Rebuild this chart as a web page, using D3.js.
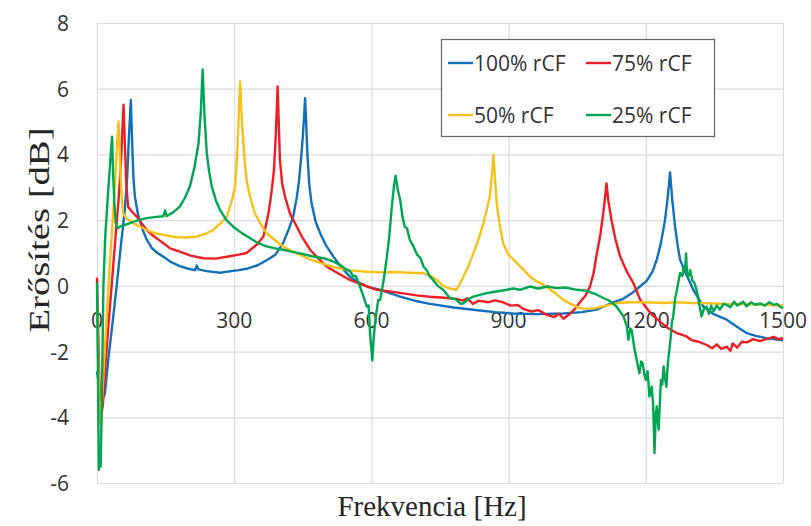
<!DOCTYPE html>
<html>
<head>
<meta charset="utf-8">
<script src="https://cdn.jsdelivr.net/npm/d3@7"></script>
<style>
  html, body { margin: 0; padding: 0; background: #fff; }
  svg { display: block; }
</style>
</head>
<body>
<div id="chart"></div>
<script>
// ---------- data ----------
const xTicks = [0, 300, 600, 900, 1200, 1500];
const yTicks = [-6, -4, -2, 0, 2, 4, 6, 8];
const seriesNames = ["100% rCF", "75% rCF", "50% rCF", "25% rCF"];
const seriesColors = ["#1170b8", "#ee1d23", "#f7c11a", "#00a651"];

// [frequency Hz, gain dB]
const rcf100 = [[0,-2.6],[5,-3.1],[12,-3.45],[17,-3.3],[25,-2.2],[35,-1.0],[43,0],[52,1.2],[60,2.2],[66,3.3],[70,4.6],[74,5.66],[77,4.3],[80,3.2],[83,2.7],[90,2.15],[100,1.7],[109,1.40],[120,1.15],[132,1.0],[145,0.89],[160,0.74],[181,0.6],[200,0.52],[215,0.48],[218,0.62],[222,0.5],[240,0.45],[269,0.40],[290,0.44],[310,0.48],[327,0.52],[350,0.62],[371,0.78],[390,0.95],[407,1.30],[420,1.75],[429,2.11],[437,2.7],[442,3.23],[447,4.0],[450,4.54],[453,5.2],[455,5.71],[457,5.1],[460,4.04],[464,3.1],[469,2.52],[478,1.95],[488,1.60],[500,1.25],[517,0.89],[535,0.55],[553,0.28],[570,0.12],[590,-0.02],[619,-0.12],[663,-0.33],[700,-0.47],[728,-0.55],[780,-0.66],[837,-0.75],[870,-0.8],[910,-0.84],[960,-0.86],[1019,-0.84],[1060,-0.8],[1093,-0.72],[1129,-0.5],[1150,-0.4],[1170,-0.22],[1187,-0.02],[1202,0.15],[1215,0.45],[1224,0.8],[1233,1.3],[1242,2.0],[1248,2.7],[1253,3.45],[1258,2.6],[1264,1.80],[1270,1.2],[1275,0.79],[1290,0.3],[1304,-0.12],[1326,-0.63],[1347,-0.85],[1377,-1.03],[1400,-1.25],[1421,-1.44],[1440,-1.52],[1464,-1.59],[1480,-1.62],[1500,-1.66]];

const rcf75 = [[0,0.25],[2,-1.0],[5,-2.8],[9,-4.0],[13,-3.6],[18,-2.5],[25,-1.2],[32,0],[40,1.4],[47,2.6],[52,3.6],[55,4.6],[58,5.51],[61,4.3],[64,3.1],[68,2.41],[77,2.25],[87,2.11],[98,1.9],[109,1.70],[125,1.5],[145,1.30],[160,1.14],[181,1.04],[205,0.92],[232,0.84],[260,0.83],[290,0.9],[310,0.95],[327,1.0],[349,1.25],[364,1.5],[375,2.21],[382,2.9],[387,3.53],[391,4.6],[395,6.07],[398,4.7],[400,3.83],[405,3.1],[411,2.72],[422,2.2],[437,1.80],[450,1.45],[466,1.10],[485,0.82],[502,0.59],[525,0.4],[553,0.18],[582,0.03],[612,-0.12],[655,-0.2],[699,-0.29],[728,-0.33],[760,-0.36],[786,-0.4],[800,-0.45],[810,-0.38],[822,-0.55],[835,-0.45],[855,-0.5],[870,-0.44],[888,-0.5],[905,-0.6],[920,-0.58],[932,-0.7],[950,-0.78],[965,-0.74],[983,-0.88],[1000,-0.95],[1010,-0.85],[1020,-1.0],[1034,-0.85],[1045,-0.7],[1056,-0.5],[1068,-0.3],[1078,-0.02],[1086,0.4],[1093,0.99],[1100,1.5],[1107,2.21],[1111,2.7],[1114,3.12],[1118,2.6],[1125,2.0],[1134,1.4],[1144,0.89],[1158,0.45],[1173,0.08],[1187,-0.4],[1202,-0.68],[1215,-0.9],[1231,-1.09],[1250,-1.3],[1268,-1.44],[1289,-1.54],[1300,-1.65],[1315,-1.7],[1333,-1.8],[1345,-1.9],[1355,-1.78],[1365,-1.92],[1377,-1.85],[1385,-1.98],[1390,-1.75],[1400,-1.88],[1410,-1.7],[1421,-1.72],[1435,-1.62],[1450,-1.68],[1464,-1.62],[1480,-1.55],[1490,-1.63],[1500,-1.58]];

const rcf50 = [[0,-0.5],[3,-2.5],[7,-4.2],[11,-3.5],[16,-2.2],[25,0],[32,1.5],[38,2.8],[42,3.8],[45,4.6],[47,5.0],[50,4.0],[53,3.0],[57,2.2],[65,2.05],[79,1.91],[95,1.8],[109,1.70],[127,1.6],[145,1.55],[174,1.48],[195,1.47],[218,1.50],[240,1.6],[254,1.70],[270,1.9],[284,2.11],[295,2.6],[302,3.02],[306,3.9],[309,4.85],[311,5.6],[313,6.22],[315,5.5],[319,4.54],[323,3.8],[327,3.23],[335,2.7],[345,2.21],[357,1.9],[371,1.60],[390,1.38],[407,1.20],[425,1.07],[444,0.94],[470,0.78],[502,0.64],[525,0.55],[553,0.47],[590,0.43],[626,0.41],[655,0.42],[680,0.40],[699,0.39],[713,0.39],[730,0.3],[743,0.18],[757,0.0],[770,-0.08],[786,-0.12],[793,0.05],[801,0.28],[812,0.6],[823,0.99],[835,1.45],[845,1.91],[852,2.3],[859,2.72],[863,3.3],[867,3.99],[870,3.3],[874,2.52],[880,1.9],[888,1.30],[900,0.95],[918,0.69],[932,0.5],[947,0.28],[960,0.15],[976,0.03],[1000,-0.2],[1020,-0.43],[1040,-0.58],[1056,-0.68],[1075,-0.7],[1090,-0.68],[1114,-0.6],[1140,-0.52],[1165,-0.5],[1200,-0.5],[1240,-0.52],[1268,-0.5],[1300,-0.52],[1340,-0.53],[1377,-0.55],[1420,-0.56],[1460,-0.58],[1500,-0.6]];

const rcf25 = [[0,0.1],[2,-2.5],[4,-5.6],[6,-5.2],[8,-5.5],[10,-4.0],[14,0],[18,1.5],[24,2.8],[28,3.6],[31,4.2],[33,4.54],[35,3.5],[38,2.5],[41,1.9],[45,1.75],[50,1.80],[60,1.85],[72,1.91],[90,2.0],[109,2.06],[130,2.1],[145,2.12],[149,2.3],[152,2.12],[165,2.22],[181,2.41],[193,2.7],[203,3.02],[213,3.6],[222,4.34],[227,5.3],[231,6.59],[235,5.2],[240,4.04],[245,3.5],[251,3.02],[260,2.6],[269,2.31],[283,2.0],[298,1.80],[315,1.62],[335,1.45],[352,1.3],[371,1.20],[390,1.14],[407,1.10],[425,1.04],[444,0.99],[470,0.9],[495,0.84],[515,0.75],[531,0.64],[545,0.5],[553,0.45],[560,0.3],[566,0.3],[575,-0.02],[582,-0.3],[590,-0.63],[594,-0.6],[597,-1.44],[602,-2.27],[605,-1.6],[608,-1.13],[611,-0.8],[615,-0.43],[619,-0.43],[626,0.1],[633,0.79],[639,1.5],[644,2.31],[649,3.0],[653,3.35],[658,2.9],[663,2.62],[668,2.1],[673,1.80],[678,1.75],[684,1.4],[692,1.20],[700,0.95],[707,0.85],[714,0.59],[722,0.45],[728,0.28],[735,0.18],[745,0.0],[757,-0.12],[770,-0.35],[786,-0.43],[795,-0.55],[801,-0.53],[812,-0.4],[823,-0.33],[835,-0.28],[852,-0.22],[870,-0.18],[896,-0.12],[910,-0.08],[925,-0.12],[947,-0.02],[965,-0.08],[985,-0.02],[1005,-0.07],[1025,-0.05],[1049,-0.12],[1070,-0.15],[1093,-0.27],[1107,-0.37],[1120,-0.45],[1136,-0.63],[1151,-0.93],[1158,-1.2],[1162,-1.64],[1166,-1.3],[1169,-1.34],[1175,-1.9],[1180,-2.25],[1186,-2.66],[1190,-2.3],[1193,-2.35],[1197,-2.7],[1200,-2.86],[1204,-2.6],[1208,-3.37],[1213,-3.07],[1216,-3.6],[1219,-5.09],[1222,-3.9],[1224,-3.67],[1228,-4.38],[1231,-3.5],[1233,-2.86],[1236,-3.0],[1239,-2.45],[1242,-2.8],[1245,-3.07],[1247,-2.6],[1249,-2.25],[1254,-1.64],[1257,-1.1],[1260,-0.93],[1264,-0.4],[1268,-0.12],[1275,0.39],[1280,0.3],[1283,0.59],[1286,0.5],[1288,0.99],[1290,0.4],[1293,0.28],[1297,0.48],[1302,0.15],[1306,0.1],[1311,-0.12],[1316,-0.5],[1322,-0.93],[1327,-0.7],[1333,-0.63],[1338,-0.85],[1343,-0.6],[1348,-0.78],[1355,-0.6],[1362,-0.72],[1370,-0.55],[1377,-0.58],[1385,-0.65],[1393,-0.48],[1400,-0.6],[1413,-0.48],[1420,-0.62],[1430,-0.5],[1440,-0.58],[1450,-0.53],[1460,-0.6],[1470,-0.5],[1480,-0.58],[1487,-0.55],[1493,-0.63],[1500,-0.68]];

const seriesData = [rcf100, rcf75, rcf50, rcf25];

// ---------- drawing ----------
const W = 811, H = 526;
const plot = { left: 97, right: 783, top: 23, bottom: 483 };

const svg = d3.select("#chart").append("svg")
  .attr("width", W).attr("height", H);

svg.append("rect").attr("width", W).attr("height", H).attr("fill", "#fff");

const x = d3.scaleLinear().domain([0, 1500]).range([plot.left, plot.right]);
const y = d3.scaleLinear().domain([-6, 8]).range([plot.bottom, plot.top]);

// gridlines
const grid = svg.append("g");
grid.selectAll("line.h").data(yTicks).join("line")
  .attr("x1", plot.left).attr("x2", plot.right)
  .attr("y1", d => y(d) + 0.5).attr("y2", d => y(d) + 0.5)
  .attr("stroke", "#dcdcdc").attr("stroke-width", 1.2);
grid.selectAll("line.v").data(xTicks).join("line")
  .attr("y1", plot.top).attr("y2", plot.bottom)
  .attr("x1", d => x(d) + 0.5).attr("x2", d => x(d) + 0.5)
  .attr("stroke", "#dcdcdc").attr("stroke-width", 1.2);

const tickFont = "'Open Sans', 'Noto Sans', sans-serif";

// y tick labels
svg.append("g").selectAll("text").data(yTicks).join("text")
  .attr("x", 69).attr("y", d => y(d))
  .attr("text-anchor", "end").attr("dominant-baseline", "central")
  .attr("font-family", tickFont).attr("font-size", 21).attr("fill", "#333")
  .text(d => d);

// x tick labels (axis crosses at 0)
svg.append("g").selectAll("text").data(xTicks).join("text")
  .attr("x", d => x(d)).attr("y", y(0) + 34)
  .attr("text-anchor", "middle").attr("dominant-baseline", "central")
  .attr("font-family", tickFont).attr("font-size", 21).attr("fill", "#333")
  .text(d => d);

// lines
const line = d3.line().x(d => x(d[0])).y(d => y(d[1]));
svg.append("g").selectAll("path").data(seriesData).join("path")
  .attr("d", line)
  .attr("fill", "none")
  .attr("stroke", (d, i) => seriesColors[i])
  .attr("stroke-width", 2.4)
  .attr("stroke-linejoin", "round");

// axis titles
svg.append("text")
  .attr("transform", `translate(38, 230) rotate(-90)`)
  .attr("text-anchor", "middle").attr("dominant-baseline", "central")
  .attr("font-family", "'Liberation Serif', 'Times New Roman', serif")
  .attr("font-size", 30).attr("fill", "#262626")
  .attr("textLength", 205).attr("lengthAdjust", "spacingAndGlyphs")
  .text("Erősítés [dB]");

svg.append("text")
  .attr("x", 432).attr("y", 516)
  .attr("text-anchor", "middle")
  .attr("font-family", "'Liberation Serif', 'Times New Roman', serif")
  .attr("font-size", 29).attr("fill", "#262626")
  .text("Frekvencia [Hz]");

// legend
const legend = svg.append("g");
legend.append("rect")
  .attr("x", 441.5).attr("y", 39.5).attr("width", 273).attr("height", 97)
  .attr("fill", "#fff").attr("stroke", "#666").attr("stroke-width", 1.2);
const legPos = [[448, 63], [586, 63], [448, 115], [586, 115]];
const legItems = legend.selectAll("g").data(seriesNames).join("g")
  .attr("transform", (d, i) => `translate(${legPos[i][0]},${legPos[i][1]})`);
legItems.append("line")
  .attr("x1", 0).attr("x2", 25).attr("y1", 0).attr("y2", 0)
  .attr("stroke", (d, i) => seriesColors[i]).attr("stroke-width", 2.4);
legItems.append("text")
  .attr("x", 26).attr("y", 0).attr("dominant-baseline", "central")
  .attr("font-family", tickFont).attr("font-size", 21).attr("fill", "#333")
  .text(d => d);
</script>
</body>
</html>
